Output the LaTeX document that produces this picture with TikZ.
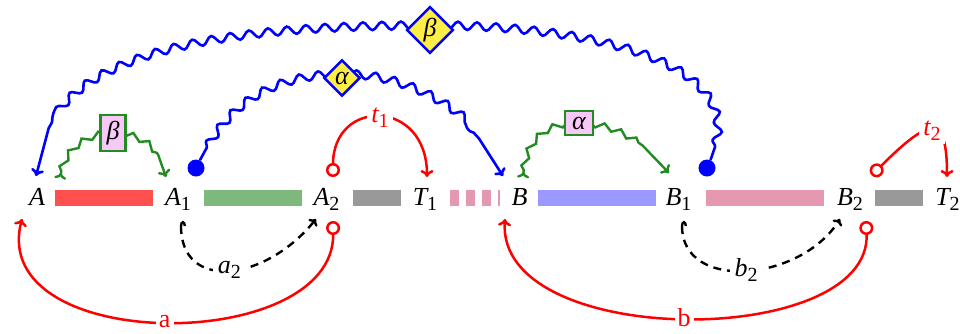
\documentclass[tikz,border=0pt]{standalone}
\usepackage{fontspec}
\setmainfont{Liberation Serif}
\usetikzlibrary{arrows.meta,decorations.pathmorphing,shapes.geometric}
\definecolor{barred}{RGB}{255,80,80}
\definecolor{bargreen}{RGB}{125,185,125}
\definecolor{bargrey}{RGB}{153,153,153}
\definecolor{barpink}{RGB}{229,153,176}
\definecolor{barblue}{RGB}{153,153,255}
\definecolor{lnblue}{RGB}{0,0,255}
\definecolor{lnred}{RGB}{255,0,0}
\definecolor{lngreen}{RGB}{34,139,34}
\definecolor{boxpink}{RGB}{248,200,248}
\definecolor{diayellow}{RGB}{255,238,70}
\newcommand\sbs[1]{\raisebox{-5pt}{\fontsize{20}{20}\selectfont\upshape #1}}
\tikzset{
  ocirc/.tip={Circle[open, length=14pt, width=14pt]},
  mytip/.tip={To[length=7pt, width=13pt]},
  smalltip/.tip={To[length=6pt, width=11pt]},
  fork/.tip={To[reversed, length=6pt, width=12pt]},
  hook/.tip={Hooks[right, length=5pt, width=10pt]}
}
\begin{document}
\begin{tikzpicture}[x=1pt,y=-1pt,
  lbl/.style={font=\fontsize{26}{30}\selectfont\itshape, inner sep=0pt, anchor=base},
  barline/.style={line width=15.7pt},
  wavy/.style={lnblue, line width=2.6pt, decorate,
    decoration={snake, segment length=19pt, amplitude=4pt, pre length=14pt, post length=#1}},
  zz/.style={lngreen, line width=2.4pt, decorate,
    decoration={zigzag, segment length=17pt, amplitude=3pt, pre length=8pt, post length=#1}},
  bdot/.style={circle, fill=lnblue, inner sep=0pt, minimum size=17pt},
  dia/.style={diamond, aspect=1, draw=lnblue, fill=diayellow, line width=2.4pt, inner sep=2.5pt,
    font=\fontsize{26}{30}\selectfont\itshape, text=black},
  gbox/.style={draw=lngreen, fill=boxpink, line width=2.4pt, inner xsep=6pt, inner ysep=6pt,
    font=\fontsize{26}{30}\selectfont\itshape, text=black},
  redl/.style={lnred, line width=2.5pt},
  rlbl/.style={fill=white, inner sep=4pt, font=\fontsize{26}{30}\selectfont\itshape, text=lnred},
  blbl/.style={fill=white, inner sep=5pt, font=\fontsize{26}{30}\selectfont\itshape, text=black},
  dsh/.style={black, line width=2.4pt, dash pattern=on 8pt off 6pt}
]
\useasboundingbox (0,0) rectangle (960,333);

% labels on the line
\node[lbl] (A)  at (37,205)  {A};
\node[lbl] (A1) at (178,205) {A\sbs{1}};
\node[lbl] (A2) at (326.5,205) {A\sbs{2}};
\node[lbl] (T1) at (425,205) {T\sbs{1}};
\node[lbl] (B)  at (519.5,205) {B};
\node[lbl] (B1) at (678.5,205) {B\sbs{1}};
\node[lbl] (B2) at (850,205) {B\sbs{2}};
\node[lbl] (T2) at (947.5,205) {T\sbs{2}};

% bars
\draw[barline, barred]   (55,198) -- (153,198);
\draw[barline, bargreen] (204,198) -- (302,198);
\draw[barline, bargrey]  (353,198) -- (401,198);
\draw[barline, barpink, dash pattern=on 9pt off 7pt] (450,198) -- (500,198);
\draw[barline, barblue]  (538,198) -- (656,198);
\draw[barline, barpink]  (706,198) -- (824,198);
\draw[barline, bargrey]  (875,198) -- (923,198);

% connector end points
\coordinate (eA) at (36,176);
\coordinate (eB) at (503,176);
\coordinate (gs1) at (60,179);
\coordinate (ge1) at (166,177);
\coordinate (gs2) at (523,178);
\coordinate (ge2) at (669,173);
\coordinate (a2t) at (333,177);
\coordinate (T1t) at (427,177);
\coordinate (t2s) at (871.7,175.3);
\coordinate (T2t) at (947,177);
\coordinate (a2b) at (333,221);
\coordinate (Ab) at (22,219);
\coordinate (b2b) at (866,221);
\coordinate (Bb) at (505,219);
\coordinate (h1) at (181,221);
\coordinate (h1e) at (316,219);
\coordinate (h2) at (682,221);
\coordinate (h2e) at (840,219);

% blue wavy connectors
\node[bdot] (d1) at (196,168) {};
\node[bdot] (d2) at (707,168) {};
\draw[wavy=45pt, -{mytip}] (d1) .. controls (230,100) and (280,78) .. (342,78)
  node[dia] (alpha) {α} .. controls (410,78) and (480,120) .. (eB);
\draw[wavy=50pt, -{mytip}] (d2) .. controls (750,70) and (600,30) .. (430,30)
  node[dia] (beta) {β} .. controls (200,30) and (40,60) .. (eA);

% green zigzag connectors
\draw[zz=24pt, {fork}-{mytip}] (gs1) .. controls (66,118) and (160,118) .. (ge1)
  node[pos=0.5, gbox] (gbeta) {β};
\draw[zz=38pt, {fork}-{mytip}] (gs2) .. controls (525,140) and (545,123) .. (579,123)
  node[gbox, inner xsep=7pt] (galpha) {α} .. controls (615,123) and (650,145) .. (ge2);

% red connectors
\draw[redl, {ocirc}-{mytip}] (a2t) .. controls (333,98) and (427,98) .. (T1t)
  node[midway, rlbl] (t1) {t\sbs{1}};
\draw[redl, {ocirc}-{mytip}] (t2s) .. controls (932,115) and (947,115) .. (T2t)
  node[midway, rlbl] (t2) {t\sbs{2}};
\draw[redl, {ocirc}-{mytip}] (a2b) .. controls (335,355) and (-14,355) .. (Ab)
  node[midway, rlbl, inner sep=3pt, font=\fontsize{26}{30}\selectfont\upshape] (la) {a};
\draw[redl, {ocirc}-{mytip}] (b2b) .. controls (872,350) and (495,350) .. (Bb)
  node[midway, rlbl, inner sep=3pt, font=\fontsize{26}{30}\selectfont\upshape] (lb) {b};

% dashed black connectors
\draw[dsh, {hook}-{smalltip}] (h1) .. controls (181,292) and (265,282) .. (h1e)
  node[midway, blbl] (la2) {a\sbs{2}};
\draw[dsh, {hook}-{smalltip}] (h2) .. controls (682,292) and (800,282) .. (h2e)
  node[midway, blbl] (lb2) {b\sbs{2}};
\end{tikzpicture}
\end{document}
